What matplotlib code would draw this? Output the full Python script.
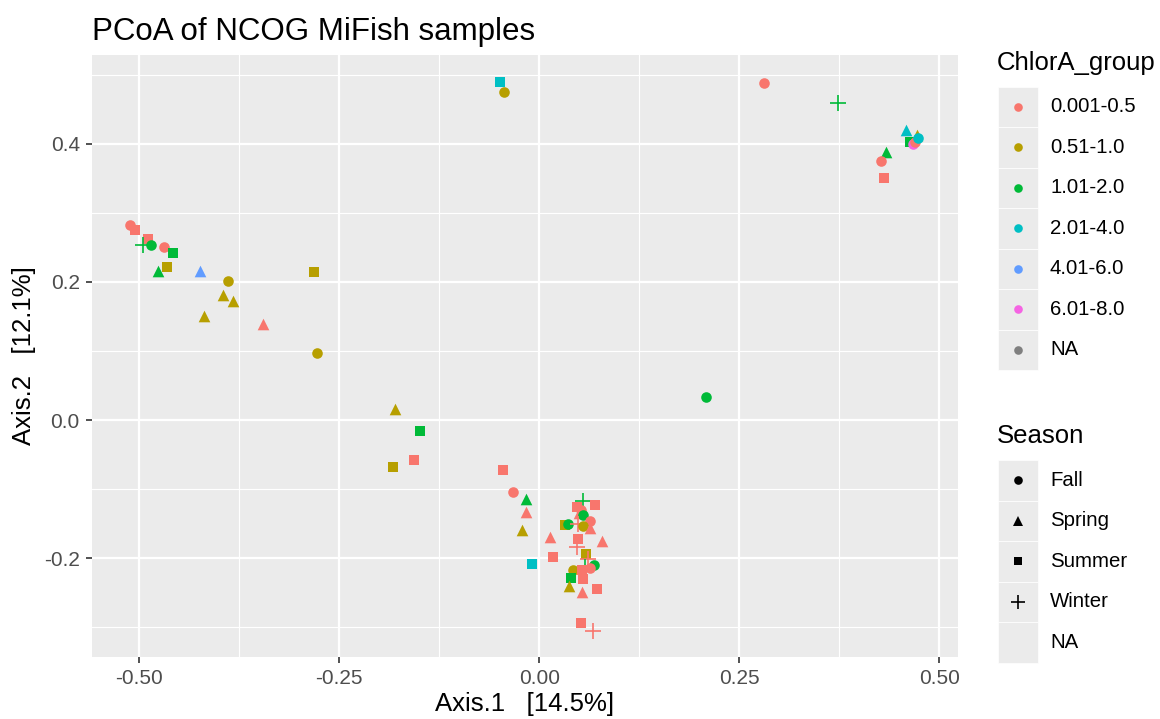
import matplotlib.pyplot as plt
from matplotlib.patches import Rectangle
from matplotlib.ticker import MultipleLocator

plt.rcParams["font.family"] = ["Liberation Sans", "DejaVu Sans"]

# PCoA coordinates
axis1 = [-0.511, -0.505, -0.489, -0.495, -0.485, -0.469, -0.458, -0.465, -0.476, -0.424,
         -0.389, -0.395, -0.383, -0.419, -0.345, -0.282, -0.278,
         -0.180, -0.149, -0.183, -0.157, -0.049, -0.044, 0.208,
         0.374, 0.281, 0.459, 0.472, 0.463, 0.467, 0.470, 0.474, 0.434, 0.427, 0.431,
         -0.045, -0.0325, -0.016, -0.017, -0.022, 0.013, 0.0175, -0.0095,
         0.055, 0.070, 0.047, 0.052, 0.050, 0.055, 0.063, 0.032, 0.036, 0.049, 0.055,
         0.063, 0.079, 0.049, 0.047, 0.059, 0.061, 0.057, 0.069, 0.0425, 0.053, 0.063,
         0.040, 0.0375, 0.055, 0.054, 0.072, 0.052, 0.0675]
axis2 = [0.283, 0.275, 0.262, 0.254, 0.254, 0.250, 0.242, 0.222, 0.216, 0.216,
         0.202, 0.181, 0.173, 0.151, 0.139, 0.214, 0.097,
         0.016, -0.016, -0.068, -0.058, 0.490, 0.475, 0.033,
         0.460, 0.488, 0.420, 0.413, 0.403, 0.400, 0.403, 0.408, 0.389, 0.376, 0.350,
         -0.072, -0.104, -0.114, -0.134, -0.160, -0.169, -0.198, -0.209,
         -0.118, -0.123, -0.126, -0.130, -0.135, -0.138, -0.147, -0.152, -0.150, -0.150, -0.154,
         -0.157, -0.176, -0.172, -0.184, -0.194, -0.201, -0.213, -0.210, -0.218, -0.218, -0.215,
         -0.229, -0.241, -0.230, -0.249, -0.245, -0.294, -0.305]
chlor = ["0.001-0.5", "0.001-0.5", "0.001-0.5", "1.01-2.0", "1.01-2.0", "0.001-0.5", "1.01-2.0",
         "0.51-1.0", "1.01-2.0", "4.01-6.0",
         "0.51-1.0", "0.51-1.0", "0.51-1.0", "0.51-1.0", "0.001-0.5", "0.51-1.0", "0.51-1.0",
         "0.51-1.0", "1.01-2.0", "0.51-1.0", "0.001-0.5", "2.01-4.0", "0.51-1.0", "1.01-2.0",
         "1.01-2.0", "0.001-0.5", "2.01-4.0", "0.51-1.0", "1.01-2.0", "6.01-8.0", "0.001-0.5",
         "2.01-4.0", "1.01-2.0", "0.001-0.5", "0.001-0.5",
         "0.001-0.5", "0.001-0.5", "1.01-2.0", "0.001-0.5", "0.51-1.0", "0.001-0.5", "0.001-0.5",
         "2.01-4.0",
         "1.01-2.0", "0.001-0.5", "0.001-0.5", "0.001-0.5", "0.001-0.5", "1.01-2.0", "0.001-0.5",
         "0.51-1.0", "1.01-2.0", "0.001-0.5", "0.51-1.0",
         "0.001-0.5", "0.001-0.5", "0.001-0.5", "0.001-0.5", "0.51-1.0", "0.001-0.5", "1.01-2.0",
         "1.01-2.0", "0.51-1.0", "0.001-0.5", "0.001-0.5",
         "1.01-2.0", "0.51-1.0", "0.001-0.5", "0.001-0.5", "0.001-0.5", "0.001-0.5", "0.001-0.5"]
season = ["Fall", "Summer", "Summer", "Winter", "Fall", "Fall", "Summer", "Summer", "Spring", "Spring",
          "Fall", "Spring", "Spring", "Spring", "Spring", "Summer", "Fall",
          "Spring", "Summer", "Summer", "Summer", "Summer", "Fall", "Fall",
          "Winter", "Fall", "Spring", "Spring", "Summer", "Fall", "Fall", "Fall", "Spring", "Fall", "Summer",
          "Summer", "Fall", "Spring", "Spring", "Spring", "Spring", "Summer", "Summer",
          "Winter", "Summer", "Summer", "Fall", "Spring", "Fall", "Fall", "Summer", "Fall", "Winter", "Fall",
          "Spring", "Spring", "Summer", "Winter", "Summer", "Winter", "Winter", "Fall", "Fall", "Summer", "Fall",
          "Summer", "Spring", "Summer", "Spring", "Summer", "Summer", "Winter"]

chlor_levels = ["0.001-0.5", "0.51-1.0", "1.01-2.0", "2.01-4.0", "4.01-6.0", "6.01-8.0", "NA"]
chlor_colors = ["#F8766D", "#B79F00", "#00BA38", "#00BFC4", "#619CFF", "#F564E3", "#7F7F7F"]
season_levels = ["Fall", "Spring", "Summer", "Winter", "NA"]
season_marker = {"Fall": "o", "Spring": "^", "Summer": "s", "Winter": "+"}
season_size = {"Fall": 58, "Spring": 70, "Summer": 50, "Winter": 120}

cmap = dict(zip(chlor_levels, chlor_colors))

fig = plt.figure(figsize=(11.6, 7.19), dpi=100)
ax = fig.add_axes([0.079, 0.0866, 0.747, 0.837])
ax.set_facecolor("#EBEBEB")

for i in range(len(axis1)):
    s = season[i]
    ax.scatter(axis1[i], axis2[i], marker=season_marker[s], s=season_size[s],
               c=cmap[chlor[i]], linewidths=1.2 if s == "Winter" else 0, zorder=3)

ax.set_xlim(-0.5595, 0.5238)
ax.set_ylim(-0.343, 0.529)
ax.xaxis.set_major_locator(MultipleLocator(0.25))
ax.xaxis.set_minor_locator(MultipleLocator(0.125))
ax.yaxis.set_major_locator(MultipleLocator(0.2))
ax.yaxis.set_minor_locator(MultipleLocator(0.1))
ax.set_xticks([-0.5, -0.25, 0, 0.25, 0.5], ["-0.50", "-0.25", "0.00", "0.25", "0.50"])
ax.set_yticks([-0.2, 0, 0.2, 0.4], ["-0.2", "0.0", "0.2", "0.4"])
ax.grid(which="major", color="white", lw=1.6)
ax.grid(which="minor", color="white", lw=0.8)
ax.set_axisbelow(True)
for sp in ax.spines.values():
    sp.set_visible(False)
ax.tick_params(which="major", length=4.5, width=1.2, color="#333333",
               labelsize=15, labelcolor="#4D4D4D", pad=4)
ax.tick_params(which="minor", length=0)

ax.set_xlabel("Axis.1   [14.5%]", fontsize=18.5, labelpad=3)
ax.set_ylabel("Axis.2   [12.1%]", fontsize=18.5, labelpad=6)
fig.text(0.079, 0.956, "PCoA of NCOG MiFish samples", fontsize=22.5, va="center", ha="left")


# legends drawn ggplot-style with figure coordinates
def px(x, y):
    return x / 1160, 1 - y / 719


key_w, key_h = 40.5, 40.5
kx0 = 997.5
fig.text(*px(997, 63), "ChlorA_group", fontsize=18.5, va="center", ha="left")
y0 = 86.5
for j, (lab, col) in enumerate(zip(chlor_levels, chlor_colors)):
    top = y0 + j * key_h
    fig.patches.append(Rectangle(px(kx0, top + key_h), key_w / 1160, key_h / 719,
                                 transform=fig.transFigure, facecolor="#EBEBEB",
                                 edgecolor="white", lw=0.5))
    cx, cy = px(kx0 + key_w / 2, top + key_h / 2)
    fig.add_artist(plt.Line2D([cx], [cy], marker="o", ms=6.2, color=col, mec="none",
                              transform=fig.transFigure))
    fig.text(*px(1050, top + key_h / 2), lab, fontsize=14.7, va="center", ha="left")

fig.text(*px(997, 436), "Season", fontsize=18.5, va="center", ha="left")
y0 = 460
for j, lab in enumerate(season_levels):
    top = y0 + j * key_h
    fig.patches.append(Rectangle(px(kx0, top + key_h), key_w / 1160, key_h / 719,
                                 transform=fig.transFigure, facecolor="#EBEBEB",
                                 edgecolor="white", lw=0.5))
    cx, cy = px(kx0 + key_w / 2, top + key_h / 2)
    if lab in season_marker:
        m = season_marker[lab]
        ms = {"o": 6.2, "^": 7.5, "s": 5.6, "+": 10}[m]
        fig.add_artist(plt.Line2D([cx], [cy], marker=m, ms=ms, color="black",
                                  mec="black" if m == "+" else "none", mew=1.2,
                                  transform=fig.transFigure))
    fig.text(*px(1050, top + key_h / 2), lab, fontsize=14.7, va="center", ha="left")

fig.savefig("out.png", dpi=100)
